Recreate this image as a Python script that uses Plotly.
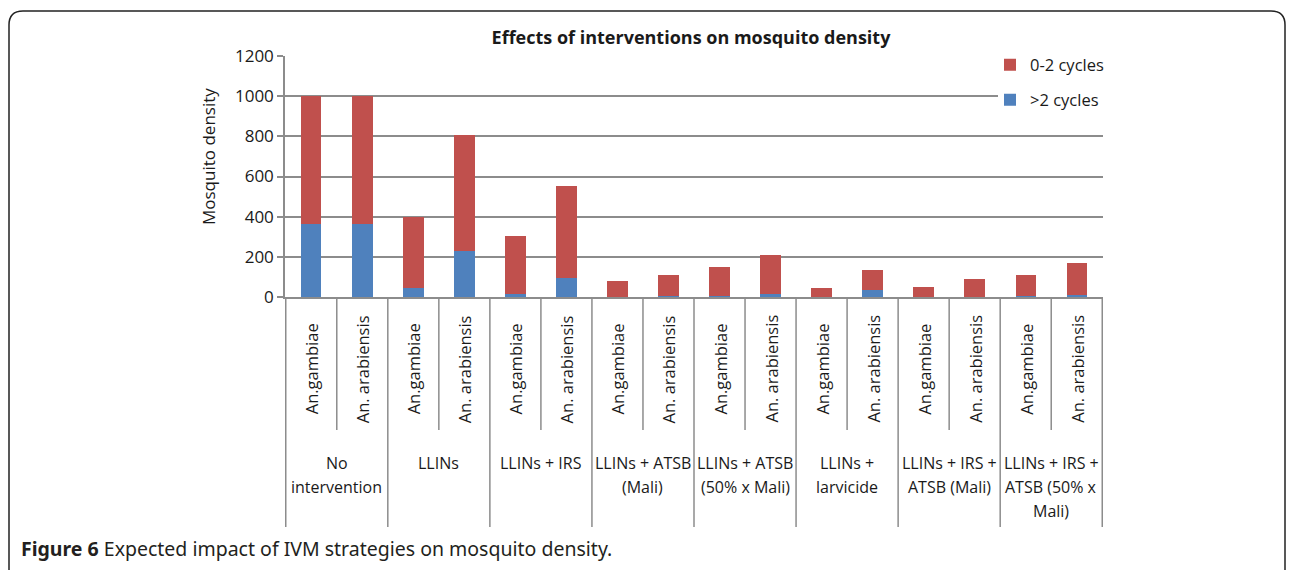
import plotly.graph_objects as go

# ---------------- data ----------------
GROUPS = ["No<br>intervention", "LLINs", "LLINs + IRS", "LLINs + ATSB<br>(Mali)",
          "LLINs + ATSB<br>(50% x Mali)", "LLINs +<br>larvicide",
          "LLINs + IRS +<br>ATSB (Mali)", "LLINs + IRS +<br>ATSB (50% x<br>Mali)"]
SPECIES = ["An.gambiae", "An. arabiensis"]
TOTAL = [1000, 1000, 400, 805, 306, 551, 80, 110, 148, 210, 43, 132, 50, 89, 110, 168]
OVER2 = [365, 365, 47, 228, 16, 97, 2, 3, 3, 15, 2, 36, 1, 2, 3, 8]
UNDER2 = [t - o for t, o in zip(TOTAL, OVER2)]
Y_TICKS = [0, 200, 400, 600, 800, 1000, 1200]

categories = [f"{g.replace('<br>', ' ')} | {s}" for g in GROUPS for s in SPECIES]

# ---------------- geometry helpers (pixel -> paper) ----------------
W, H = 1292, 570
L, R, T, B = 285, 1103, 56, 297


def px(x):
    return (x - L) / (R - L)


def py(y):
    return (B - y) / (B - T)


FONT = "Open Sans"
GRID = "#8c8c8c"
TXT = "#1a1a1a"

fig = go.Figure()
fig.add_trace(go.Bar(x=categories, y=OVER2, name=">2 cycles",
                     marker=dict(color="#4F81BD", line=dict(width=0)),
                     legend="legend2", showlegend=True))
fig.add_trace(go.Bar(x=categories, y=UNDER2, name="0-2 cycles",
                     marker=dict(color="#C0504D", line=dict(width=0)),
                     legend="legend", showlegend=True))

annotations = []
shapes = []

# species labels (rotated)
for i, cat in enumerate(categories):
    sp = SPECIES[i % 2]
    annotations.append(dict(x=i, y=py(369), xref="x", yref="paper", text=sp,
                            textangle=-90, showarrow=False, xanchor="center",
                            yanchor="middle", font=dict(family=FONT, size=16.5, color=TXT)))

# group labels (one annotation per line)
for k, g in enumerate(GROUPS):
    for j, line in enumerate(g.split("<br>")):
        annotations.append(dict(x=2 * k + 0.5, y=py(463 + 24 * j), xref="x", yref="paper",
                                text=line, showarrow=False, xanchor="center",
                                yanchor="middle", font=dict(family=FONT, size=16, color=TXT)))

# dividers
for k in range(len(GROUPS)):
    shapes.append(dict(type="line", xref="x", yref="paper", x0=2 * k + 0.5, x1=2 * k + 0.5,
                       y0=0, y1=py(430), line=dict(color=GRID, width=1.5)))
for k in range(len(GROUPS) + 1):
    shapes.append(dict(type="line", xref="x", yref="paper", x0=2 * k - 0.5, x1=2 * k - 0.5,
                       y0=0, y1=py(527), line=dict(color=GRID, width=1.5)))

# white patch behind the legend (hides grid lines there)
shapes.append(dict(type="rect", xref="paper", yref="paper", x0=px(998), x1=px(1106),
                   y0=py(115), y1=py(45), fillcolor="white", line=dict(width=0), layer="above"))

# outer rounded frame
x0, y0, x1, y1, r = 9, 11, 1285, 600, 14
path = (f"M {px(x0)},{py(y1)} L {px(x0)},{py(y0 + r)} "
        f"Q {px(x0)},{py(y0)} {px(x0 + r)},{py(y0)} "
        f"L {px(x1 - r)},{py(y0)} Q {px(x1)},{py(y0)} {px(x1)},{py(y0 + r)} "
        f"L {px(x1)},{py(y1)}")
shapes.append(dict(type="path", xref="paper", yref="paper", path=path,
                   line=dict(color="#222222", width=1.5)))

# y-axis title
annotations.append(dict(x=px(208), y=py(157), xref="paper", yref="paper",
                        text="Mosquito density", textangle=-90, showarrow=False,
                        xanchor="center", yanchor="middle",
                        font=dict(family=FONT, size=17, color=TXT)))

# caption
annotations.append(dict(x=px(19), y=py(548), xref="paper", yref="paper",
                        text="<b>Figure 6</b> Expected impact of IVM strategies on mosquito density.",
                        showarrow=False, xanchor="left", yanchor="middle",
                        font=dict(family="Noto Sans", size=19.5, color="#231f20")))

fig.update_layout(
    width=W, height=H,
    margin=dict(l=L, r=W - R, t=T, b=H - B, autoexpand=False),
    paper_bgcolor="white", plot_bgcolor="white",
    barmode="stack", bargap=0.6, showlegend=True,
    title=dict(text="<b>Effects of interventions on mosquito density</b>",
               x=px(691), xref="paper", xanchor="center",
               y=1 - 38 / H, yanchor="middle",
               font=dict(family=FONT, size=18, color=TXT)),
    xaxis=dict(showticklabels=False, ticks="", showgrid=False, showline=True,
               linecolor=GRID, linewidth=1.5, zeroline=False, fixedrange=True),
    yaxis=dict(range=[0, 1200], tickvals=Y_TICKS, ticks="outside", ticklen=6,
               tickcolor=GRID, tickwidth=1.5, showline=True, linecolor=GRID,
               linewidth=1.5, showgrid=True, gridcolor=GRID, gridwidth=1.5,
               zeroline=False, tickfont=dict(family=FONT, size=17, color=TXT)),
    legend=dict(x=px(990), y=py(65), xanchor="left", yanchor="middle",
                bgcolor="rgba(0,0,0,0)", font=dict(family=FONT, size=16.5, color=TXT)),
    legend2=dict(x=px(990), y=py(100), xanchor="left", yanchor="middle",
                 bgcolor="rgba(0,0,0,0)", font=dict(family=FONT, size=16.5, color=TXT)),
    annotations=annotations,
    shapes=shapes,
)

fig.write_html("out.html", config={"displayModeBar": False},
               post_script="document.body.style.margin='0';")
